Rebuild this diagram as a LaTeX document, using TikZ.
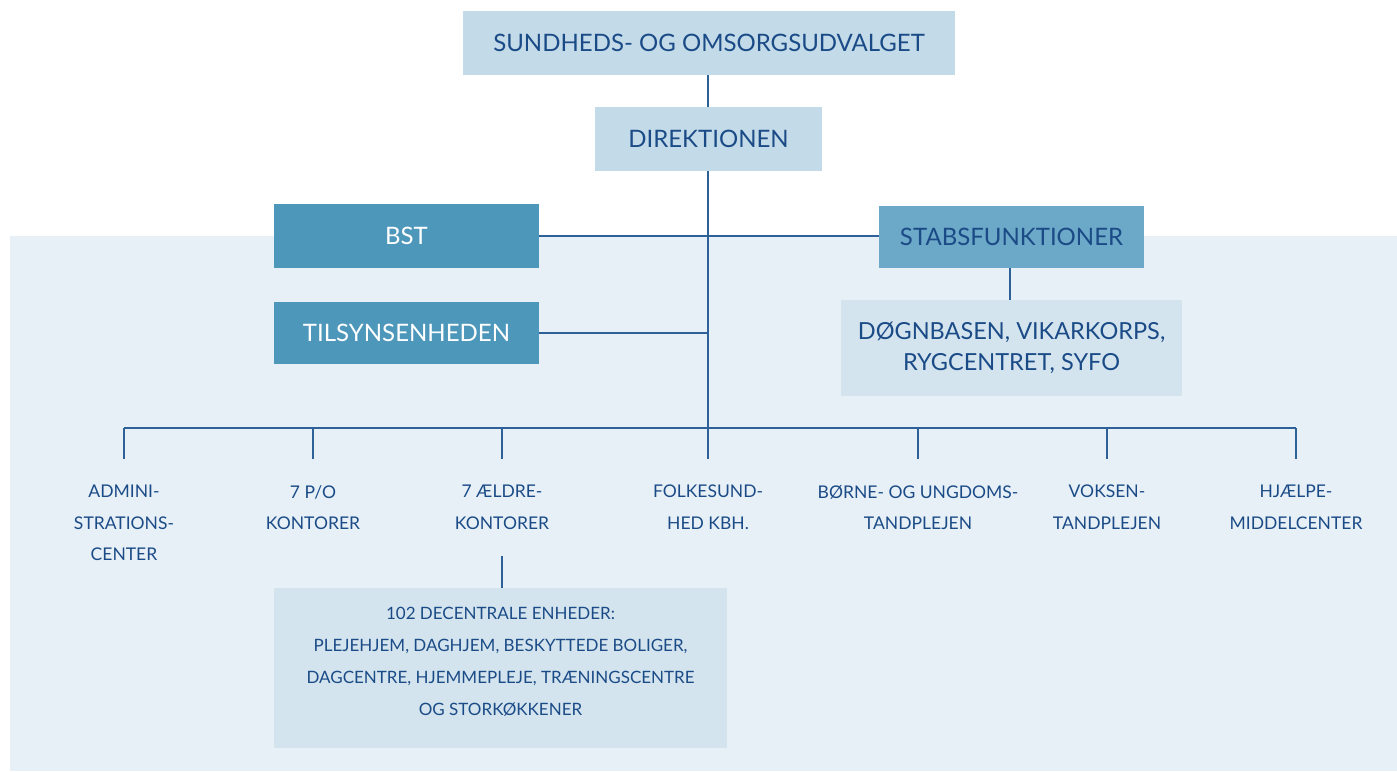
\documentclass[tikz,border=0pt]{standalone}
\usepackage{fontspec}
\setmainfont{Lato}
\usetikzlibrary{positioning}
\definecolor{orgtext}{RGB}{27,75,135}
\definecolor{orgline}{RGB}{45,97,152}
\definecolor{orgpanel}{RGB}{231,240,247}
\definecolor{orglight}{RGB}{195,218,232}
\definecolor{orgpale}{RGB}{211,228,238}
\definecolor{orgmid}{RGB}{77,151,187}
\definecolor{orgstab}{RGB}{108,168,199}

\begin{document}
\begin{tikzpicture}[x=1pt, y=-1pt,
    lightbox/.style={fill=orglight, text=orgtext, inner sep=0pt, font=\fontsize{24}{28}\selectfont},
    midbox/.style={fill=orgmid, text=white, inner sep=0pt, font=\fontsize{24}{28}\selectfont},
    stabbox/.style={fill=orgstab, text=orgtext, inner sep=0pt, font=\fontsize{24}{28}\selectfont},
    palebox/.style={fill=orgpale, text=orgtext, inner sep=0pt, align=center},
    unit/.style={text=orgtext, align=center, anchor=north, inner sep=0pt, font=\fontsize{17.5}{31.5}\selectfont},
    link/.style={draw=orgline, line width=1.6pt}
]
\useasboundingbox (0,0) rectangle (1397,771);
\fill[orgpanel] (10,236) rectangle (1397,771);

% top of the hierarchy
\node[lightbox, minimum width=492pt, minimum height=64pt] (udvalg) at (709,43) {SUNDHEDS- OG OMSORGSUDVALGET};
\node[lightbox, minimum width=227pt, minimum height=64pt] (direktion) at (708.5,139) {DIREKTIONEN};
\node[midbox, minimum width=265pt, minimum height=64pt] (bst) at (406.5,236) {BST};
\node[midbox, minimum width=265pt, minimum height=62pt] (tilsyn) at (406.5,333) {TILSYNSENHEDEN};
\node[stabbox, minimum width=265pt, minimum height=62pt] (stab) at (1011.5,237) {STABSFUNKTIONER};
\node[palebox, minimum width=341pt, minimum height=96pt, font=\fontsize{23.5}{31}\selectfont] (doegn) at (1011.5,348) {DØGNBASEN, VIKARKORPS,\\RYGCENTRET, SYFO};

\coordinate (trunk) at (708,428);
\draw[link] (udvalg.south -| trunk) -- (direktion.north -| trunk);
\draw[link] (direktion.south -| trunk) -- (trunk);
\draw[link] (bst.east) -- (stab.west |- bst.east);
\draw[link] (tilsyn.east) -- (tilsyn.east -| trunk);
\draw[link] (stab.south -| 1010,0) -- (doegn.north -| 1010,0);

% units below the bus
\coordinate (busL) at (124,428);
\coordinate (busR) at (1296,428);
\draw[link] (busL) -- (busR);
\foreach \x/\name/\txt in {124/admin/{ADMINI-\\STRATIONS-\\CENTER},
    313/po/{7 P/O\\KONTORER},
    502/aeldre/{7 ÆLDRE-\\KONTORER},
    708/folke/{FOLKESUND-\\HED KBH.},
    918/boerne/{BØRNE- OG UNGDOMS-\\TANDPLEJEN},
    1107/voksen/{VOKSEN-\\TANDPLEJEN},
    1296/hjaelp/{HJÆLPE-\\MIDDELCENTER}}{
  \coordinate (top-\name) at (\x,428);
  \node[unit] (\name) at (\x,485) {\txt};
  \draw[link] (top-\name) -- ++(0,31);
}

\node[palebox, minimum width=453pt, minimum height=160pt] (decentral) at (500.5,668) {};
\node[text=orgtext, align=center, inner sep=0pt, font=\fontsize{17}{32}\selectfont] (decentraltxt) at (500.5,662) {102 DECENTRALE ENHEDER:\\PLEJEHJEM, DAGHJEM, BESKYTTEDE BOLIGER,\\DAGCENTRE, HJEMMEPLEJE, TRÆNINGSCENTRE\\OG STORKØKKENER};
\coordinate (aeldre-foot) at (502,556);
\draw[link] (aeldre-foot) -- (decentral.north -| aeldre-foot);
\end{tikzpicture}
\end{document}
